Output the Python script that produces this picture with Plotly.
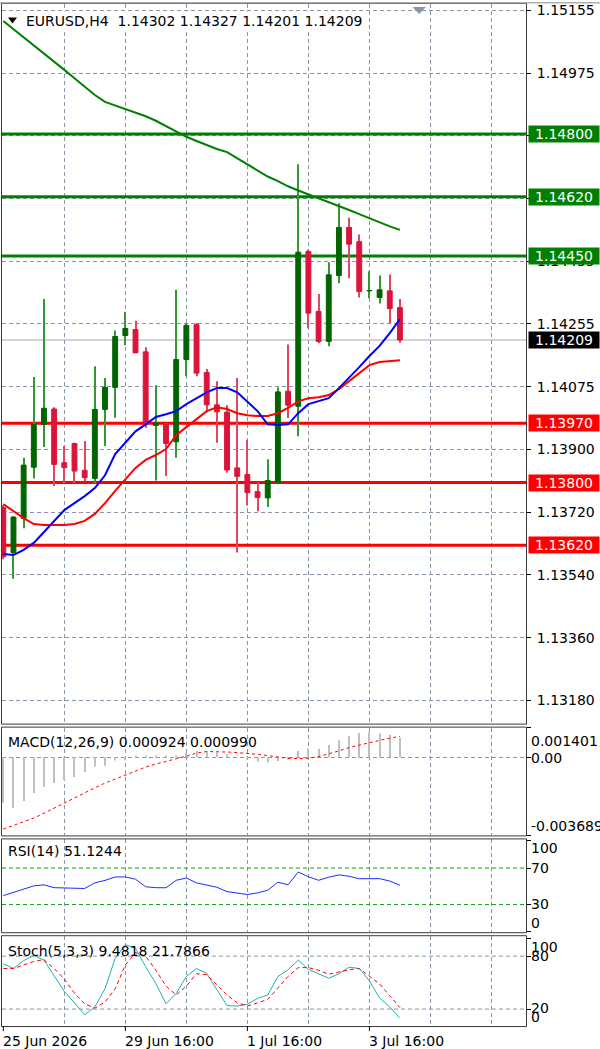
import plotly.graph_objects as go

# ---------------- data ----------------
candle_idx = list(range(40))
open_ = [1.13728, 1.13599, 1.13697, 1.13844, 1.13967, 1.14011, 1.13857, 1.13912, 1.13835, 1.13812,
         1.14010, 1.14073, 1.14222, 1.14239, 1.14175, 1.13964, 1.13967, 1.13917, 1.14153, 1.14253,
         1.14116, 1.14023, 1.14002, 1.13842, 1.13823, 1.13774, 1.13756, 1.13799, 1.14062, 1.14019,
         1.14463, 1.14291, 1.14205, 1.14394, 1.14532, 1.14491, 1.14350, 1.14331, 1.14350, 1.14302]
high = [1.13735, 1.13703, 1.13871, 1.14103, 1.14327, 1.14016, 1.13905, 1.13914, 1.13919, 1.14134,
        1.14100, 1.14236, 1.14289, 1.14264, 1.14188, 1.14079, 1.13971, 1.14353, 1.14258, 1.14258,
        1.14126, 1.14091, 1.14022, 1.14100, 1.13923, 1.13801, 1.13867, 1.14073, 1.14196, 1.14713,
        1.14468, 1.14341, 1.14432, 1.14601, 1.14560, 1.14512, 1.14406, 1.14394, 1.14397, 1.14327]
low = [1.13580, 1.13524, 1.13669, 1.13812, 1.13902, 1.13790, 1.13799, 1.13799, 1.13804, 1.13795,
       1.13905, 1.13986, 1.14194, 1.14172, 1.13957, 1.13806, 1.13819, 1.13871, 1.14105, 1.14105,
       1.14002, 1.13914, 1.13828, 1.13599, 1.13734, 1.13718, 1.13730, 1.13795, 1.13985, 1.13933,
       1.14243, 1.14200, 1.14191, 1.14372, 1.14386, 1.14331, 1.14329, 1.14314, 1.14257, 1.14201]
close = [1.13587, 1.13701, 1.13850, 1.13967, 1.14013, 1.13852, 1.13843, 1.13833, 1.13814, 1.14010,
         1.14073, 1.14219, 1.14242, 1.14172, 1.13967, 1.13971, 1.13912, 1.14153, 1.14251, 1.14114,
         1.14023, 1.14003, 1.13836, 1.13818, 1.13771, 1.13757, 1.13806, 1.14060, 1.14022, 1.14461,
         1.14286, 1.14205, 1.14396, 1.14532, 1.14484, 1.14348, 1.14351, 1.14353, 1.14299, 1.14209]

ma_slow = [1.15124, 1.15101, 1.15078, 1.15054, 1.15030, 1.15007, 1.14984, 1.14960, 1.14935, 1.14912,
           1.14892, 1.14882, 1.14872, 1.14862, 1.14851, 1.14838, 1.14822, 1.14806, 1.14792, 1.14780,
           1.14768, 1.14757, 1.14748, 1.14730, 1.14712, 1.14695, 1.14678, 1.14665, 1.14650, 1.14638,
           1.14627, 1.14617, 1.14606, 1.14595, 1.14582, 1.14570, 1.14558, 1.14547, 1.14535, 1.14525]
ma_fast = [1.13595, 1.13592, 1.13607, 1.13627, 1.13658, 1.13690, 1.13721, 1.13741, 1.13761, 1.13784,
           1.13821, 1.13882, 1.13916, 1.13947, 1.13967, 1.13988, 1.13996, 1.14005, 1.14025, 1.14042,
           1.14059, 1.14071, 1.14071, 1.14059, 1.14033, 1.14005, 1.13967, 1.13965, 1.13967, 1.13999,
           1.14025, 1.14033, 1.14042, 1.14071, 1.14100, 1.14131, 1.14163, 1.14192, 1.14229, 1.14269]
ma_mid = [1.13738, 1.13718, 1.13698, 1.13681, 1.13678, 1.13678, 1.13678, 1.13681, 1.13690, 1.13710,
          1.13741, 1.13776, 1.13810, 1.13842, 1.13865, 1.13879, 1.13896, 1.13936, 1.13959, 1.13982,
          1.14005, 1.14016, 1.14011, 1.13999, 1.13993, 1.13991, 1.13991, 1.13999, 1.14014, 1.14033,
          1.14042, 1.14045, 1.14051, 1.14068, 1.14091, 1.14114, 1.14137, 1.14146, 1.14148, 1.14151]

macd_main = [-0.00215, -0.00239, -0.00207, -0.00169, -0.00140, -0.00121, -0.00108, -0.00093, -0.00069, -0.00045,
             -0.00040, -0.00015, -0.00012, 0.00004, 0.00006, 0.00008, 0.00005, 0.00010, 0.00020, 0.00030,
             0.00028, 0.00022, 0.00014, 0.00002, -0.00010, -0.00020, -0.00025, -0.00018, -0.00012, 0.00030,
             0.00042, 0.00040, 0.00058, 0.00080, 0.00100, 0.00115, 0.00118, 0.00112, 0.00106, 0.000924]
macd_signal = [-0.00339, -0.00322, -0.00304, -0.00287, -0.00264, -0.00240, -0.00215, -0.00190, -0.00167, -0.00144,
               -0.00122, -0.00103, -0.00083, -0.00065, -0.00046, -0.00032, -0.00018, -0.00007, 0.00005, 0.00020,
               0.00027, 0.00027, 0.00025, 0.00022, 0.00019, 0.00014, 0.00008, 0.00000, -0.00005, -0.00006,
               -0.00005, 0.00003, 0.00015, 0.00030, 0.00046, 0.00058, 0.00071, 0.00080, 0.00090, 0.00099]

rsi = [39.8, 43.3, 47.5, 50.5, 51.6, 48.5, 48.2, 48.0, 47.6, 53.8,
       56.5, 60.2, 60.3, 57.8, 49.5, 48.5, 48.4, 56.6, 59.1, 53.8,
       51.5, 49.0, 44.2, 42.3, 41.0, 42.8, 45.7, 54.5, 51.7, 65.7,
       60.5, 56.6, 60.0, 62.5, 61.0, 58.3, 58.5, 58.4, 55.8, 51.12]

stoch_k = [71.2, 66.1, 75.0, 80.5, 75.5, 57.0, 40.0, 27.0, 13.5, 22.5,
           43.0, 77.5, 93.0, 89.0, 68.0, 49.0, 26.0, 37.8, 57.0, 66.0,
           60.5, 42.0, 24.0, 23.4, 25.5, 32.0, 36.0, 57.0, 64.5, 75.5,
           65.0, 60.0, 55.0, 60.0, 67.5, 66.0, 52.0, 32.5, 22.5, 9.48]
stoch_d = [66.0, 66.0, 70.0, 74.0, 76.0, 66.0, 54.0, 38.0, 26.0, 21.0,
           28.0, 43.0, 70.0, 84.0, 80.0, 64.0, 46.0, 36.0, 46.0, 60.0,
           59.0, 48.0, 36.0, 27.0, 23.5, 27.0, 31.0, 44.0, 57.0, 67.0,
           67.0, 64.0, 59.5, 62.0, 64.5, 66.0, 57.0, 48.5, 35.0, 21.79]

resistance_levels = [1.14800, 1.14620, 1.14450]
support_levels = [1.13970, 1.13800, 1.13620]
last_price = 1.14209

price_tick_vals = [1.15155, 1.14975, 1.14795, 1.14615, 1.14435, 1.14255, 1.14075, 1.13895,
                   1.13715, 1.13535, 1.13355, 1.13175]
price_tick_text = ["1.15155", "1.14975", "1.14795", "1.14615", "1.14435", "1.14255", "1.14075",
                   "1.13900", "1.13720", "1.13540", "1.13360", "1.13180"]
date_tick_idx = [0, 12, 24, 36]
date_tick_text = ["25 Jun 2026", "29 Jun 16:00", "1 Jul 16:00", "3 Jul 16:00"]
grid_idx = [6, 12, 18, 24, 30, 36, 42, 48]

header_text = "EURUSD,H4  1.14302 1.14327 1.14201 1.14209"
macd_title = "MACD(12,26,9) 0.000924 0.000990"
rsi_title = "RSI(14) 51.1244"
stoch_title = "Stoch(5,3,3) 9.4818 21.7866"

# ---------------- layout helpers ----------------
W, H = 600, 1049
FONT = "DejaVu Sans"
GRID = "#8796a8"
GDASH = "4px,3px"


def fx(p):
    return p / W


def fy(p):
    return 1 - p / H


X_RANGE = [(2 - 3.3) / 10.17, (526 - 3.3) / 10.17]
PANELS = {"main": (2, 723), "macd": (727, 835), "rsi": (839, 932), "stoch": (936, 1026)}

bull_body, bear_body = "#006400", "#dc143c"
bull_wick, bear_wick = "#339933", "#e2475f"
is_bull = [c >= o for o, c in zip(open_, close)]

fig = go.Figure()

# wicks
fig.add_trace(go.Bar(
    x=candle_idx, base=low, y=[h - l for h, l in zip(high, low)], width=0.1,
    marker=dict(color=[bull_wick if b else bear_wick for b in is_bull], line=dict(width=0)),
    xaxis="x", yaxis="y", hoverinfo="skip"))
# bodies
body_cols = [bull_body if b else bear_body for b in is_bull]
fig.add_trace(go.Bar(
    x=candle_idx, base=[min(o, c) for o, c in zip(open_, close)],
    y=[abs(c - o) for o, c in zip(open_, close)], width=0.48,
    marker=dict(color=body_cols, line=dict(color=body_cols, width=1)),
    xaxis="x", yaxis="y", hoverinfo="skip"))
# moving averages
fig.add_trace(go.Scatter(x=candle_idx, y=ma_slow, mode="lines",
                         line=dict(color="#008000", width=2), xaxis="x", yaxis="y"))
fig.add_trace(go.Scatter(x=candle_idx, y=ma_mid, mode="lines",
                         line=dict(color="#ff0000", width=2), xaxis="x", yaxis="y"))
fig.add_trace(go.Scatter(x=candle_idx, y=ma_fast, mode="lines",
                         line=dict(color="#0000ff", width=2), xaxis="x", yaxis="y"))

# MACD
fig.add_trace(go.Bar(x=candle_idx, y=macd_main, width=0.1,
                     marker=dict(color="#c0c0c0", line=dict(width=0)),
                     xaxis="x2", yaxis="y2"))
fig.add_trace(go.Scatter(x=candle_idx, y=macd_signal, mode="lines",
                         line=dict(color="#ff0000", width=1, dash="3px,3px"),
                         xaxis="x2", yaxis="y2"))
# RSI
fig.add_trace(go.Scatter(x=candle_idx, y=rsi, mode="lines",
                         line=dict(color="#1a2eff", width=1), xaxis="x3", yaxis="y3"))
# Stoch
fig.add_trace(go.Scatter(x=candle_idx, y=stoch_k, mode="lines",
                         line=dict(color="#20b2aa", width=1), xaxis="x4", yaxis="y4"))
fig.add_trace(go.Scatter(x=candle_idx, y=stoch_d, mode="lines",
                         line=dict(color="#ff0000", width=1, dash="4px,3px"),
                         xaxis="x4", yaxis="y4"))

xcommon = dict(range=X_RANGE, domain=[fx(2), fx(526)], showticklabels=False,
               tickvals=grid_idx, ticks="", showgrid=True, gridcolor=GRID, griddash=GDASH,
               gridwidth=1, zeroline=False, showline=False, fixedrange=True)

ytick_font = dict(family=FONT, size=14, color="black")
layout = dict(
    width=W, height=H, margin=dict(l=0, r=0, t=0, b=0),
    paper_bgcolor="white", plot_bgcolor="white", showlegend=False, barmode="overlay",
    font=dict(family=FONT, size=14, color="black"),
    xaxis=dict(anchor="y", **xcommon),
    xaxis2=dict(anchor="y2", matches="x", **xcommon),
    xaxis3=dict(anchor="y3", matches="x", **xcommon),
    xaxis4=dict(anchor="y4", matches="x", **xcommon),
    yaxis=dict(anchor="x", side="right", domain=[fy(723), fy(2)], range=[1.131084, 1.15173],
               tickvals=price_tick_vals, ticktext=price_tick_text, ticks="outside", ticklen=4,
               tickcolor="black", tickfont=ytick_font, ticklabelstandoff=3,
               showgrid=True, gridcolor=GRID, griddash=GDASH, zeroline=False, showline=False),
    yaxis2=dict(anchor="x2", side="right", domain=[fy(835), fy(727)], range=[-0.003689, 0.001401],
                tickvals=[0.001401, 0, -0.003689], ticktext=["", "", ""], ticks="outside", ticklen=4,
                tickcolor="black", showgrid=True, gridcolor=GRID, griddash=GDASH, zeroline=False),
    yaxis3=dict(anchor="x3", side="right", domain=[fy(932), fy(839)], range=[-0.3, 101.4],
                tickvals=[100, 70, 30, 0], ticktext=["", "", "", ""], ticks="outside", ticklen=4,
                tickcolor="black", showgrid=False, zeroline=False),
    yaxis4=dict(anchor="x4", side="right", domain=[fy(1026), fy(936)], range=[0.75, 102.6],
                tickvals=[100, 80, 20, 0], ticktext=["", "", "", ""], ticks="outside", ticklen=4,
                tickcolor="black", showgrid=False, zeroline=False),
)
fig.update_layout(**layout)

shapes = []
# horizontal levels
for lv in resistance_levels:
    shapes.append(dict(type="line", xref="x", yref="y", x0=X_RANGE[0], x1=X_RANGE[1], y0=lv, y1=lv,
                       line=dict(color="#008000", width=3), layer="between"))
for lv in support_levels:
    shapes.append(dict(type="line", xref="x", yref="y", x0=X_RANGE[0], x1=X_RANGE[1], y0=lv, y1=lv,
                       line=dict(color="#ff0000", width=3), layer="between"))
shapes.append(dict(type="line", xref="x", yref="y", x0=X_RANGE[0], x1=X_RANGE[1],
                   y0=last_price, y1=last_price, line=dict(color="#a3abb6", width=1), layer="between"))
# indicator level lines
for lv in [70, 30]:
    shapes.append(dict(type="line", xref="x3", yref="y3", x0=X_RANGE[0], x1=X_RANGE[1], y0=lv, y1=lv,
                       line=dict(color="#10a010", width=1, dash=GDASH), layer="between"))
for lv in [80, 20]:
    shapes.append(dict(type="line", xref="x4", yref="y4", x0=X_RANGE[0], x1=X_RANGE[1], y0=lv, y1=lv,
                       line=dict(color=GRID, width=1, dash=GDASH), layer="between"))
# panel borders
for top, bot in PANELS.values():
    shapes.append(dict(type="rect", xref="paper", yref="paper", x0=fx(1.5), x1=fx(526.5),
                       y0=fy(bot + 0.5), y1=fy(top - 0.5), line=dict(color="#3a3a3a", width=1),
                       fillcolor="rgba(0,0,0,0)", layer="above"))
# top window strip
shapes.append(dict(type="rect", xref="paper", yref="paper", x0=0, x1=1, y0=fy(1.5), y1=1,
                   line=dict(width=0), fillcolor="#b0b0b0", layer="above"))
# date ticks
for i in date_tick_idx:
    shapes.append(dict(type="line", xref="x4", yref="paper", x0=i, x1=i, y0=fy(1026), y1=fy(1031),
                       line=dict(color="black", width=1)))
# header triangle
shapes.append(dict(type="path", xref="paper", yref="paper",
                   path=f"M {fx(8)},{fy(15.5)} L {fx(17)},{fy(15.5)} L {fx(12.5)},{fy(21.5)} Z",
                   fillcolor="black", line=dict(width=0), layer="above"))
# chart shift marker
shapes.append(dict(type="path", xref="paper", yref="paper",
                   path=f"M {fx(412.5)},{fy(5)} L {fx(426)},{fy(5)} L {fx(419.2)},{fy(12)} Z",
                   fillcolor="#8796a8", line=dict(width=0), layer="above"))
fig.update_layout(shapes=shapes)

ann = []
ann.append(dict(xref="paper", yref="paper", x=fx(24), y=fy(19), xanchor="left", yanchor="middle",
                text=header_text, showarrow=False, bgcolor="white", borderpad=1, height=16,
                font=dict(family=FONT, size=14, color="black")))
for txt, ycen in [(macd_title, 741), (rsi_title, 851), (stoch_title, 951)]:
    ann.append(dict(xref="paper", yref="paper", x=fx(6), y=fy(ycen), xanchor="left", yanchor="middle",
                    text=txt, showarrow=False, font=dict(family=FONT, size=14, color="black")))
right_labels = [("0.001401", 740), ("0.00", 757), ("-0.003689", 826),
                ("100", 848), ("70", 868), ("30", 904), ("0", 923),
                ("100", 947), ("80", 956), ("20", 1008), ("0", 1017)]
for txt, ycen in right_labels:
    ann.append(dict(xref="paper", yref="paper", x=fx(530), y=fy(ycen), xanchor="left", yanchor="middle",
                    text=txt, showarrow=False, borderpad=0,
                    font=dict(family=FONT, size=14, color="black")))
for lv, col in [(v, "#008000") for v in resistance_levels] + [(v, "#ff0000") for v in support_levels] + \
        [(last_price, "black")]:
    ann.append(dict(xref="paper", yref="y", x=fx(527.5), y=lv, xanchor="left", yanchor="middle",
                    text=f"{lv:.5f}", showarrow=False, bgcolor=col, width=70, height=16, borderpad=0,
                    align="center", font=dict(family=FONT, size=14, color="white")))
for i, txt in zip(date_tick_idx, date_tick_text):
    ann.append(dict(xref="x4", yref="paper", x=i, y=fy(1041), xanchor="left", yanchor="middle",
                    xshift=-2, text=txt, showarrow=False,
                    font=dict(family=FONT, size=14, color="black")))
fig.update_layout(annotations=ann)

fig.write_html("out.html")
